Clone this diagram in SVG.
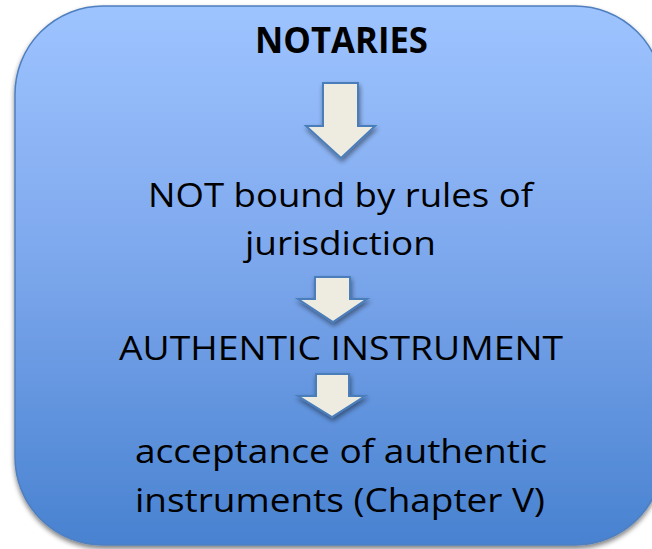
<svg xmlns="http://www.w3.org/2000/svg" width="652" height="549" viewBox="0 0 652 549">
<defs>
<linearGradient id="bg" x1="0" y1="0" x2="0" y2="1">
<stop offset="0" stop-color="#9EC4FF"/>
<stop offset="0.45" stop-color="#7FA9EE"/>
<stop offset="1" stop-color="#4882D0"/>
</linearGradient>
<filter id="shadow" x="-10%" y="-10%" width="120%" height="120%">
<feGaussianBlur in="SourceAlpha" stdDeviation="2.5"/>
<feOffset dx="0" dy="3" result="b"/>
<feComponentTransfer><feFuncA type="linear" slope="0.5"/></feComponentTransfer>
<feMerge><feMergeNode/><feMergeNode in="SourceGraphic"/></feMerge>
</filter>
<filter id="ashadow" x="-30%" y="-30%" width="160%" height="160%">
<feGaussianBlur in="SourceAlpha" stdDeviation="2.5"/>
<feOffset dx="1" dy="3" result="b"/>
<feComponentTransfer><feFuncA type="linear" slope="0.45"/></feComponentTransfer>
<feMerge><feMergeNode/><feMergeNode in="SourceGraphic"/></feMerge>
</filter>
</defs>
<style>
.box{fill:url(#bg);stroke:#4F7FBF;stroke-width:1.5}
.arrow{fill:#EEECE1;stroke:#4A7EBB;stroke-width:2;stroke-linejoin:miter}
.t{font-family:"Open Sans","Liberation Sans",sans-serif;font-size:33px;fill:#000;text-anchor:middle}
.b{font-weight:bold;font-size:36px}
</style>
<g id="container">
<rect class="box" x="15" y="6" width="648" height="539" rx="88" ry="88" filter="url(#shadow)"/>
</g>
<g id="title">
<text class="t b" x="341.5" y="53" textLength="173" lengthAdjust="spacingAndGlyphs">NOTARIES</text>
</g>
<g id="connectors">
<path class="arrow" filter="url(#ashadow)" d="M323,83 H358 V126 H375 L341,158 L306,126 H323 Z"/>
<path class="arrow" filter="url(#ashadow)" d="M315,277 H350 V299 H367 L333,322 L298,299 H315 Z"/>
<path class="arrow" filter="url(#ashadow)" d="M316,374 H349 V396 H365 L332,417 L298,396 H316 Z"/>
</g>
<g id="node-jurisdiction">
<text class="t" x="340.5" y="207" textLength="385" lengthAdjust="spacingAndGlyphs">NOT bound by rules of</text>
<text class="t" x="340.5" y="255" textLength="191" lengthAdjust="spacingAndGlyphs">jurisdiction</text>
</g>
<g id="node-instrument">
<text class="t" x="341" y="360" textLength="444" lengthAdjust="spacingAndGlyphs">AUTHENTIC INSTRUMENT</text>
</g>
<g id="node-acceptance">
<text class="t" x="341" y="463" textLength="412" lengthAdjust="spacingAndGlyphs">acceptance of authentic</text>
<text class="t" x="340" y="512" textLength="410" lengthAdjust="spacingAndGlyphs">instruments (Chapter V)</text>
</g>
</svg>
